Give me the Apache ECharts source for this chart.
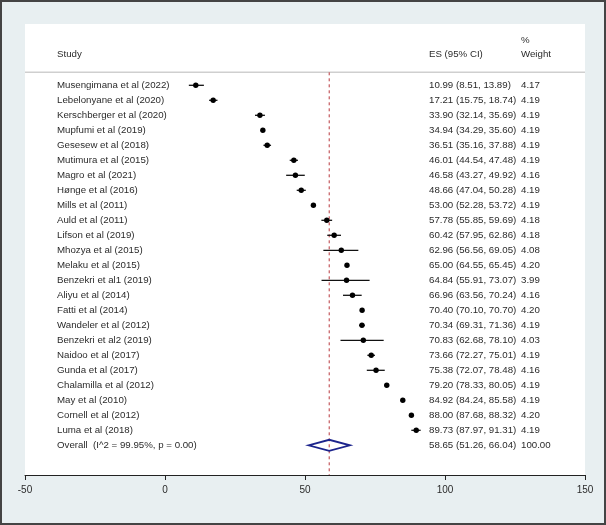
<!DOCTYPE html>
<html>
<head>
<meta charset="utf-8">
<script src="https://cdn.jsdelivr.net/npm/echarts@6/dist/echarts.min.js"></script>
<style>
html,body{margin:0;padding:0;background:#e8eff1;}
#chart{width:606px;height:525px;}
</style>
</head>
<body>
<div id="chart"></div>
<script>
// ---- data ----
var studies = [
  "Musengimana et al (2022)", "Lebelonyane et al (2020)", "Kerschberger et al (2020)",
  "Mupfumi et al (2019)", "Gesesew et al (2018)", "Mutimura et al (2015)",
  "Magro et al (2021)", "Hønge et al (2016)", "Mills et al (2011)",
  "Auld et al (2011)", "Lifson et al (2019)", "Mhozya et al (2015)",
  "Melaku et al (2015)", "Benzekri et al1 (2019)", "Aliyu et al (2014)",
  "Fatti et al (2014)", "Wandeler et al (2012)", "Benzekri et al2 (2019)",
  "Naidoo et al (2017)", "Gunda et al (2017)", "Chalamilla et al (2012)",
  "May et al (2010)", "Cornell et al (2012)", "Luma et al (2018)"
];
var es = [10.99, 17.21, 33.90, 34.94, 36.51, 46.01, 46.58, 48.66, 53.00, 57.78, 60.42, 62.96,
          65.00, 64.84, 66.96, 70.40, 70.34, 70.83, 73.66, 75.38, 79.20, 84.92, 88.00, 89.73];
var lower = [8.51, 15.75, 32.14, 34.29, 35.16, 44.54, 43.27, 47.04, 52.28, 55.85, 57.95, 56.56,
             64.55, 55.91, 63.56, 70.10, 69.31, 62.68, 72.27, 72.07, 78.33, 84.24, 87.68, 87.97];
var upper = [13.89, 18.74, 35.69, 35.60, 37.88, 47.48, 49.92, 50.28, 53.72, 59.69, 62.86, 69.05,
             65.45, 73.07, 70.24, 70.70, 71.36, 78.10, 75.01, 78.48, 80.05, 85.58, 88.32, 91.31];
var weights = [4.17, 4.19, 4.19, 4.19, 4.19, 4.19, 4.16, 4.19, 4.19, 4.18, 4.18, 4.08,
               4.20, 3.99, 4.16, 4.20, 4.19, 4.03, 4.19, 4.16, 4.19, 4.19, 4.20, 4.19];
var overallLabel = "Overall  (I^2 = 99.95%, p = 0.00)";
var overallES = 58.65, overallLo = 51.26, overallHi = 66.04, overallWeight = 100.00;
var xTicks = [-50, 0, 50, 100, 150];
var headers = { study: "Study", es: "ES (95% CI)", pct: "%", weight: "Weight" };

// ---- build ----
var labels = studies.concat([overallLabel]);
var rows = [];
for (var i = 0; i < studies.length; i++) {
  rows.push([es[i], i, lower[i], upper[i], weights[i], 0]);
}
rows.push([overallES, studies.length, overallLo, overallHi, overallWeight, 1]);

var FAM = '"Liberation Sans", Arial, sans-serif';
var FONT = '9.7px ' + FAM;
var TXT = '#2b2b2b';
var COL_NAME = 57, COL_ES = 429, COL_W = 521;
var SEP_Y = 72.3;

function fmt(v) { return v.toFixed(2); }

function renderItem(params, api) {
  var x = api.value(0), idx = api.value(1), lo = api.value(2), hi = api.value(3),
      w = api.value(4), isOverall = api.value(5) === 1;
  var c = api.coord([x, idx]);
  var cLo = api.coord([lo, idx]);
  var cHi = api.coord([hi, idx]);
  var y = c[1];
  var children = [];
  if (isOverall) {
    var cs = params.coordSys;
    children.push({
      type: 'line', z2: 1,
      shape: { x1: c[0], y1: SEP_Y, x2: c[0], y2: cs.y + cs.height },
      style: { stroke: '#bf4a4f', lineWidth: 1.1, lineDash: [3, 3] }
    });
    children.push({
      type: 'polygon', z2: 5,
      shape: { points: [[cLo[0], y], [c[0], y - 5.5], [cHi[0], y], [c[0], y + 5.5]] },
      style: { stroke: '#1c248c', lineWidth: 1.8, fill: 'none' }
    });
  } else {
    children.push({
      type: 'line', z2: 5,
      shape: { x1: cLo[0], y1: y, x2: cHi[0], y2: y },
      style: { stroke: '#111', lineWidth: 1.3 }
    });
    children.push({
      type: 'circle', z2: 6,
      shape: { cx: c[0], cy: y, r: 2.7 },
      style: { fill: '#000' }
    });
  }
  children.push({
    type: 'text', z2: 7,
    style: { x: COL_NAME, y: y, text: labels[idx], font: FONT, fill: TXT, align: 'left', verticalAlign: 'middle' }
  });
  children.push({
    type: 'text', z2: 7,
    style: { x: COL_ES, y: y, text: fmt(x) + ' (' + fmt(lo) + ', ' + fmt(hi) + ')', font: FONT, fill: TXT, align: 'left', verticalAlign: 'middle' }
  });
  children.push({
    type: 'text', z2: 7,
    style: { x: COL_W, y: y, text: fmt(w), font: FONT, fill: TXT, align: 'left', verticalAlign: 'middle' }
  });
  return { type: 'group', children: children };
}

var chart = echarts.init(document.getElementById('chart'), null, { renderer: 'canvas' });
chart.setOption({
  backgroundColor: '#e8eff1',
  animation: false,
  grid: { left: 25, right: 21, top: 24, bottom: 50, show: true, backgroundColor: '#ffffff', borderWidth: 0 },
  xAxis: {
    type: 'value',
    min: xTicks[0], max: xTicks[xTicks.length - 1], interval: xTicks[1] - xTicks[0],
    axisLine: { show: true, onZero: false, lineStyle: { color: '#222', width: 1 } },
    axisTick: { show: true, length: 5, lineStyle: { color: '#222', width: 1 } },
    axisLabel: { fontSize: 10, color: TXT, margin: 10, fontFamily: FAM },
    splitLine: { show: false }
  },
  yAxis: {
    type: 'value', inverse: true, min: -4.087, max: 25.98, show: false
  },
  series: [{
    type: 'custom',
    renderItem: renderItem,
    data: rows,
    encode: { x: 0, y: 1 },
    clip: false,
    silent: true
  }],
  graphic: [
    { type: 'text', style: { x: COL_NAME, y: 54.3, text: headers.study, font: FONT, fill: TXT, align: 'left', verticalAlign: 'middle' } },
    { type: 'text', style: { x: COL_ES, y: 54.3, text: headers.es, font: FONT, fill: TXT, align: 'left', verticalAlign: 'middle' } },
    { type: 'text', style: { x: COL_W, y: 40.7, text: headers.pct, font: FONT, fill: TXT, align: 'left', verticalAlign: 'middle' } },
    { type: 'text', style: { x: COL_W, y: 54.3, text: headers.weight, font: FONT, fill: TXT, align: 'left', verticalAlign: 'middle' } },
    { type: 'line', shape: { x1: 25, y1: SEP_Y, x2: 585, y2: SEP_Y }, style: { stroke: '#cfcfcf', lineWidth: 1.5 } },
    { type: 'rect', shape: { x: 1, y: 1, width: 604, height: 523 }, style: { fill: 'none', stroke: '#444', lineWidth: 2 } }
  ]
});
</script>
</body>
</html>
